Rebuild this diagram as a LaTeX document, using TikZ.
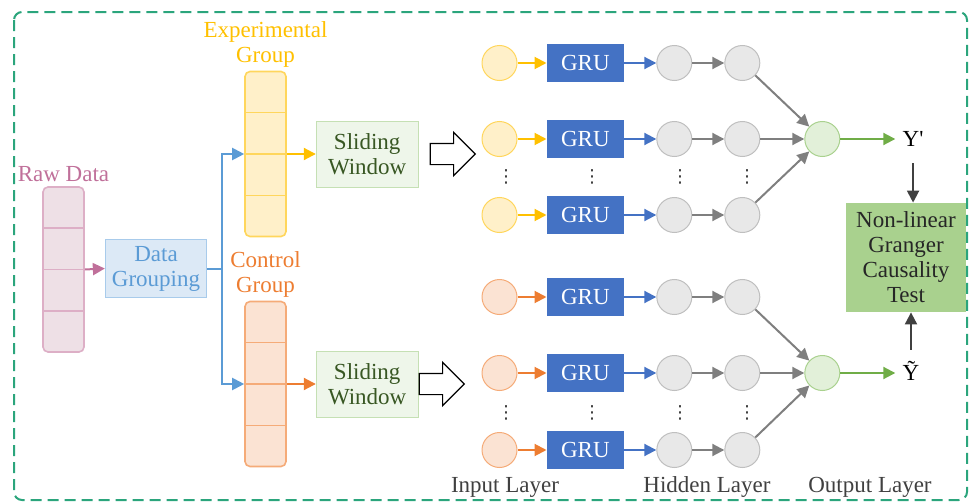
\documentclass[tikz,border=0pt]{standalone}
\usepackage{fontspec}
\setmainfont{Liberation Serif}
\newfontfamily\symbolfont{DejaVu Sans}
\usepackage{xcolor}
\definecolor{frameGreen}{HTML}{2BA57C}
\definecolor{rawColor}{HTML}{C0709A}
\definecolor{rawFill}{HTML}{EEE0E6}
\definecolor{rawEdge}{HTML}{DDAFC6}
\definecolor{groupColor}{HTML}{5B9BD5}
\definecolor{groupFill}{HTML}{DCE9F6}
\definecolor{groupEdge}{HTML}{A8CBEB}
\definecolor{expColor}{HTML}{FFC000}
\definecolor{expFill}{HTML}{FFF0C9}
\definecolor{expEdge}{HTML}{FFD65C}
\definecolor{ctlColor}{HTML}{ED7D31}
\definecolor{ctlFill}{HTML}{FBE3D3}
\definecolor{ctlEdge}{HTML}{F5AB78}
\definecolor{slideFill}{HTML}{EEF6EA}
\definecolor{slideEdge}{HTML}{C5E0B4}
\definecolor{slideText}{HTML}{385723}
\definecolor{gruColor}{HTML}{4472C4}
\definecolor{hidFill}{HTML}{E8E8E8}
\definecolor{hidEdge}{HTML}{BFBFBF}
\definecolor{hidArrow}{HTML}{7F7F7F}
\definecolor{outFill}{HTML}{E2F0D9}
\definecolor{outEdge}{HTML}{A9D18E}
\definecolor{outArrow}{HTML}{70AD47}
\definecolor{testFill}{HTML}{A9D18E}
\definecolor{mainDark}{HTML}{404040}
\usepackage{tikz}
\usetikzlibrary{positioning,calc,arrows.meta,shapes.arrows}
\tikzset{
  column/.style={
    rectangle,
    rounded corners=2.5pt,
    minimum width=20.5pt,
    minimum height=82.5pt,
    line width=0.8pt
 },
  rawCol/.style={column, draw=rawEdge, fill=rawFill},
  expCol/.style={column, draw=expEdge, fill=expFill},
  ctlCol/.style={column, draw=ctlEdge, fill=ctlFill},
  groupBox/.style={
    rectangle,
    draw=groupEdge,
    fill=groupFill,
    text=groupColor,
    minimum width=49pt,
    minimum height=27.5pt,
    align=center
 },
  slideBox/.style={
    rectangle,
    draw=slideEdge,
    fill=slideFill,
    text=slideText,
    minimum width=51pt,
    minimum height=33pt,
    align=center
 },
  bigArrow/.style={
    single arrow,
    draw=black,
    fill=white,
    line width=0.6pt,
    minimum height=22.5pt,
    single arrow head extend=5.5pt,
    inner xsep=0pt,
    inner ysep=5pt
 },
  unit/.style={circle, minimum size=17.5pt, inner sep=0pt, line width=0.5pt},
  expNode/.style={unit, draw=expEdge, fill=expFill},
  ctlNode/.style={unit, draw=ctlEdge, fill=ctlFill},
  hidNode/.style={unit, draw=hidEdge, fill=hidFill},
  outNode/.style={unit, draw=outEdge, fill=outFill},
  gruBox/.style={
    rectangle,
    fill=gruColor,
    text=white,
    minimum width=38.5pt,
    minimum height=19pt
 },
  testBox/.style={
    rectangle,
    fill=testFill,
    text=black!85,
    minimum width=60pt,
    minimum height=54.5pt,
    align=center
 },
  yNode/.style={inner sep=3.5pt, text height=7pt, text depth=0pt},
  dotsNode/.style={inner sep=0pt, text=black!80, font=\symbolfont\fontsize{9}{10}\selectfont},
  layerText/.style={text=mainDark},
  arrowLine/.style={
    -{Triangle[length=6pt,width=6pt]},
    line width=1pt
 }
}

\begin{document}
\begin{tikzpicture}[x=0.5pt, y=-0.5pt, font=\fontsize{11.5}{12.5}\selectfont]

  \useasboundingbox (0,0) rectangle (970,503);
  \draw[frameGreen, line width=1pt, dash pattern=on 5.5pt off 3pt, rounded corners=4pt]
    (14,12) rectangle (967,500);

  % Raw data and grouping
  \node[rawCol] (raw) at (63.5,269.5) {};
  \node[above=-1.5pt of raw, text=rawColor] (rawLbl) {Raw Data};
  \node[groupBox] (grp) at (156,268.5) {Data\\Grouping};

  % Experimental / control columns
  \node[expCol] (exp) at (265.5,154) {};
  \node[above=-2pt of exp, text=expColor, align=center] (expLbl) {Experimental\\Group};
  \node[ctlCol] (ctl) at (265.5,384) {};
  \node[above=-2pt of ctl, text=ctlColor, align=center] (ctlLbl) {Control\\Group};

  \foreach \f in {0.25,0.5,0.75} {
    \draw[rawEdge, line width=0.8pt] ($(raw.north west)!\f!(raw.south west)$) -- ($(raw.north east)!\f!(raw.south east)$);
    \draw[expEdge, line width=0.8pt] ($(exp.north west)!\f!(exp.south west)$) -- ($(exp.north east)!\f!(exp.south east)$);
    \draw[ctlEdge, line width=0.8pt] ($(ctl.north west)!\f!(ctl.south west)$) -- ($(ctl.north east)!\f!(ctl.south east)$);
  }

  % Sliding windows
  \node[slideBox, right=14.5pt of exp] (slideE) {Sliding\\Window};
  \node[slideBox, right=14.5pt of ctl] (slideC) {Sliding\\Window};
  \node[bigArrow, right=5.5pt of slideE] (shiftE) {};
  \node[bigArrow, right=0pt of slideC] (shiftC) {};

  % Experimental network
  \node[expNode] (e1) at (499.5,63) {};
  \node[expNode] (e2) at (499.5,139) {};
  \node[expNode] (e3) at (499.5,215) {};
  \node[gruBox, right=14.5pt of e1] (ge1) {GRU};
  \node[gruBox, right=14.5pt of e2] (ge2) {GRU};
  \node[gruBox, right=14.5pt of e3] (ge3) {GRU};
  \node[hidNode, right=16pt of ge1] (ha1) {};
  \node[hidNode, right=16pt of ge2] (ha2) {};
  \node[hidNode, right=16pt of ge3] (ha3) {};
  \node[hidNode, right=16pt of ha1] (hb1) {};
  \node[hidNode, right=16pt of ha2] (hb2) {};
  \node[hidNode, right=16pt of ha3] (hb3) {};
  \node[outNode, right=22pt of hb2] (oe) {};
  \node[yNode, right=27.5pt of oe] (ye) {Y\textquotesingle};

  % Control network
  \node[ctlNode] (c1) at (499.5,297) {};
  \node[ctlNode] (c2) at (499.5,373) {};
  \node[ctlNode] (c3) at (499.5,450) {};
  \node[gruBox, right=14.5pt of c1] (gc1) {GRU};
  \node[gruBox, right=14.5pt of c2] (gc2) {GRU};
  \node[gruBox, right=14.5pt of c3] (gc3) {GRU};
  \node[hidNode, right=16pt of gc1] (hc1) {};
  \node[hidNode, right=16pt of gc2] (hc2) {};
  \node[hidNode, right=16pt of gc3] (hc3) {};
  \node[hidNode, right=16pt of hc1] (hd1) {};
  \node[hidNode, right=16pt of hc2] (hd2) {};
  \node[hidNode, right=16pt of hc3] (hd3) {};
  \node[outNode, right=22pt of hd2] (oc) {};
  \node[yNode, right=27.5pt of oc] (yc) {\~{Y}};

  % Vertical dots
  \node[dotsNode] (de1) at (506,177) {⋮};
  \node[dotsNode] (de2) at (592,177) {⋮};
  \node[dotsNode] (de3) at (680,177) {⋮};
  \node[dotsNode] (de4) at (747,177) {⋮};
  \node[dotsNode] (dc1) at (506,413) {⋮};
  \node[dotsNode] (dc2) at (592,413) {⋮};
  \node[dotsNode] (dc3) at (680,413) {⋮};
  \node[dotsNode] (dc4) at (747,413) {⋮};

  % Causality test
  \node[testBox] (test) at (906,257.5) {Non-linear\\Granger\\Causality\\Test};

  % Layer names
  \node[layerText] (inLbl) at (505,487) {Input Layer};
  \node[layerText] (hidLbl) at (707,487) {Hidden Layer};
  \node[layerText] (outLbl) at (870,487) {Output Layer};

  % Grouping arrows
  \draw[arrowLine, rawColor] (raw.east) -- (grp.west);
  \draw[arrowLine, groupColor] (grp.east) -- ++(15,0) |- (exp.west);
  \draw[arrowLine, groupColor] (grp.east) -- ++(15,0) |- (ctl.west);
  \draw[arrowLine, expColor] (exp.east) -- (slideE.west);
  \draw[arrowLine, ctlColor] (ctl.east) -- (slideC.west);

  % Inputs to GRU
  \draw[arrowLine, expColor] (e1) -- (ge1);
  \draw[arrowLine, expColor] (e2) -- (ge2);
  \draw[arrowLine, expColor] (e3) -- (ge3);
  \draw[arrowLine, ctlColor] (c1) -- (gc1);
  \draw[arrowLine, ctlColor] (c2) -- (gc2);
  \draw[arrowLine, ctlColor] (c3) -- (gc3);

  % GRU to hidden
  \draw[arrowLine, gruColor] (ge1) -- (ha1);
  \draw[arrowLine, gruColor] (ge2) -- (ha2);
  \draw[arrowLine, gruColor] (ge3) -- (ha3);
  \draw[arrowLine, gruColor] (gc1) -- (hc1);
  \draw[arrowLine, gruColor] (gc2) -- (hc2);
  \draw[arrowLine, gruColor] (gc3) -- (hc3);

  % Hidden to hidden
  \draw[arrowLine, hidArrow] (ha1) -- (hb1);
  \draw[arrowLine, hidArrow] (ha2) -- (hb2);
  \draw[arrowLine, hidArrow] (ha3) -- (hb3);
  \draw[arrowLine, hidArrow] (hc1) -- (hd1);
  \draw[arrowLine, hidArrow] (hc2) -- (hd2);
  \draw[arrowLine, hidArrow] (hc3) -- (hd3);

  % Hidden to output
  \draw[arrowLine, hidArrow] (hb1) -- (oe);
  \draw[arrowLine, hidArrow] (hb2) -- (oe);
  \draw[arrowLine, hidArrow] (hb3) -- (oe);
  \draw[arrowLine, hidArrow] (hd1) -- (oc);
  \draw[arrowLine, hidArrow] (hd2) -- (oc);
  \draw[arrowLine, hidArrow] (hd3) -- (oc);

  % Output and test
  \draw[arrowLine, outArrow] (oe) -- (ye);
  \draw[arrowLine, outArrow] (oc) -- (yc);
  \draw[arrowLine, mainDark, shorten <=5pt] (ye) -- (ye |- test.north);
  \draw[arrowLine, mainDark, shorten <=4.5pt] (yc) -- (yc |- test.south);

\end{tikzpicture}
\end{document}
